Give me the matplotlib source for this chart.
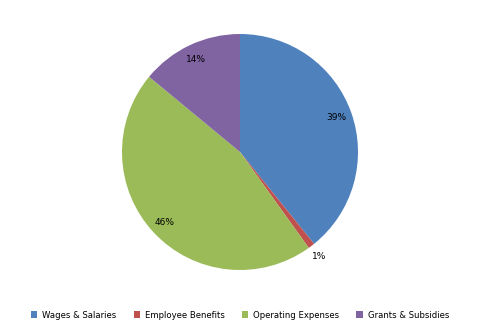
import matplotlib
matplotlib.use("Agg")
import matplotlib.pyplot as plt
from matplotlib.patches import Patch
import numpy as np

categories = ["Wages & Salaries", "Employee Benefits", "Operating Expenses", "Grants & Subsidies"]
values = [39.2, 0.9, 45.9, 14.0]
labels = ["39%", "1%", "46%", "14%"]
colors = ["#4F81BD", "#C0504D", "#9BBB59", "#8064A2"]

fig = plt.figure(figsize=(4.8, 3.33), dpi=100)
W, H = 480, 333
cx, cy, r = 240, 152, 118
ax = fig.add_axes([(cx - r) / W, (H - cy - r) / H, 2 * r / W, 2 * r / H])
wedges, _ = ax.pie(values, colors=colors, startangle=90, counterclock=False,
                   wedgeprops=dict(linewidth=0))
ax.set_xlim(-1, 1)
ax.set_ylim(-1, 1)
ax.set_aspect("equal")

for w, lab in zip(wedges, labels):
    ang = np.deg2rad((w.theta1 + w.theta2) / 2)
    frac = (w.theta2 - w.theta1) / 360
    d = 0.87 if frac > 0.05 else 1.11
    ax.text(d * np.cos(ang), d * np.sin(ang), lab, ha="center", va="center",
            fontsize=6.5, color="black")

handles = [Patch(facecolor=c, edgecolor="none") for c in colors]
fig.legend(handles, categories, loc="center", bbox_to_anchor=(0.5, 1 - 315 / H),
           ncol=4, frameon=False, fontsize=6.1, handlelength=0.75, handleheight=0.75,
           handletextpad=0.6, columnspacing=2.0)
fig.savefig("out.png", dpi=100)
